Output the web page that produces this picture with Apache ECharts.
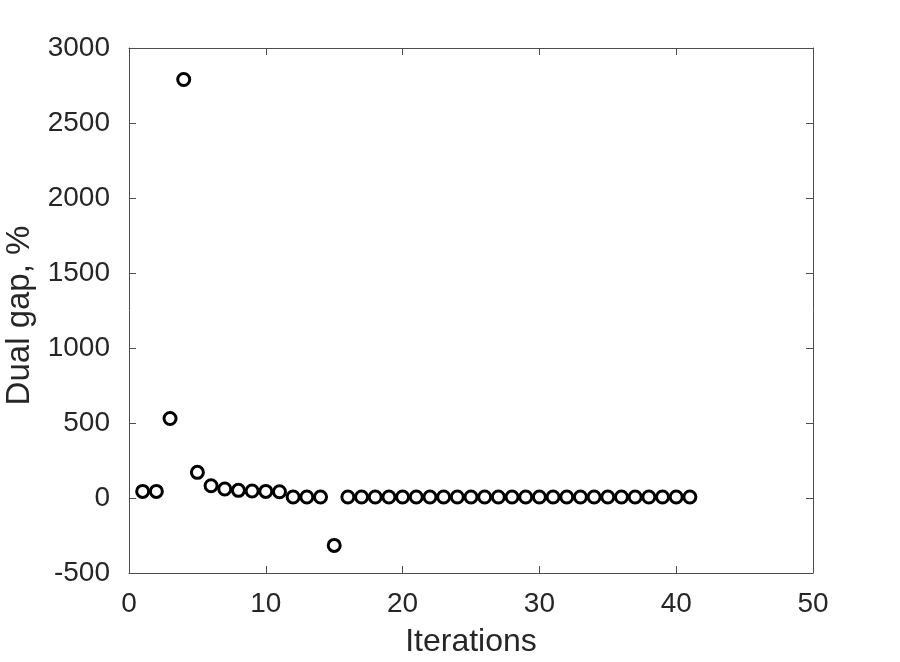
<!DOCTYPE html>
<html>
<head>
<meta charset="utf-8">
<script src="https://cdn.jsdelivr.net/npm/echarts@6/dist/echarts.min.js"></script>
<style>
  html, body { margin: 0; padding: 0; background: #fff; }
  #main { width: 900px; height: 662px; }
</style>
</head>
<body>
<div id="main"></div>
<script>
// iteration number and dual gap (%)
var iterations = [1, 2, 3, 4, 5, 6, 7, 8, 9, 10,
  11, 12, 13, 14, 15, 16, 17, 18, 19, 20,
  21, 22, 23, 24, 25, 26, 27, 28, 29, 30,
  31, 32, 33, 34, 35, 36, 37, 38, 39, 40, 41];
var dualGap = [44, 44, 530, 2790, 171, 82, 60, 51, 47, 44,
  42, 7, 7, 7, -316, 7, 7, 7, 7, 7,
  7, 7, 7, 7, 7, 7, 7, 7, 7, 7,
  7, 7, 7, 7, 7, 7, 7, 7, 7, 7, 7];

var xMin = 0, xMax = 50, xStep = 10;
var yMin = -500, yMax = 3000, yStep = 500;

var points = iterations.map(function (it, i) { return [it, dualGap[i]]; });

var txt = '#262626';
var frame = '#4d4d4d';
var font = 'Liberation Sans, Arial, sans-serif';

// top / right copies of the axes, just for the box and inner ticks
function mirrorAxis(pos, min, max, step) {
  return {
    type: 'value', position: pos, min: min, max: max, interval: step,
    axisLine: { show: true, onZero: false, lineStyle: { color: frame, width: 1 } },
    axisTick: { show: true, inside: true, length: 7, lineStyle: { color: frame } },
    axisLabel: { show: false },
    splitLine: { show: false }
  };
}

var chart = echarts.init(document.getElementById('main'));
chart.setOption({
  animation: false,
  backgroundColor: '#fff',
  grid: { left: 129, right: 87, top: 48, bottom: 89, containLabel: false, outerBoundsMode: 'none' },
  xAxis: [{
    type: 'value', position: 'bottom', min: xMin, max: xMax, interval: xStep,
    name: 'Iterations', nameLocation: 'middle', nameGap: 53,
    nameTextStyle: { color: txt, fontSize: 32, fontFamily: font },
    axisLine: { show: true, onZero: false, lineStyle: { color: frame, width: 1 } },
    axisTick: { show: true, inside: true, length: 7, lineStyle: { color: frame } },
    axisLabel: { color: txt, fontSize: 28, fontFamily: font, margin: 17 },
    splitLine: { show: false }
  }, mirrorAxis('top', xMin, xMax, xStep)],
  yAxis: [{
    type: 'value', position: 'left', min: yMin, max: yMax, interval: yStep,
    name: 'Dual gap, %', nameLocation: 'middle', nameGap: 93,
    nameTextStyle: { color: txt, fontSize: 33, fontFamily: font, padding: [0, 10, 0, 0] },
    axisLine: { show: true, onZero: false, lineStyle: { color: frame, width: 1 } },
    axisTick: { show: true, inside: true, length: 7, lineStyle: { color: frame } },
    axisLabel: { color: txt, fontSize: 28, fontFamily: font, margin: 19,
      formatter: function (v) { return String(v); } },
    splitLine: { show: false }
  }, mirrorAxis('right', yMin, yMax, yStep)],
  series: [{
    type: 'scatter',
    xAxisIndex: 0,
    yAxisIndex: 0,
    data: points,
    symbol: 'circle',
    symbolSize: 12,
    itemStyle: { color: '#fff', borderColor: '#000', borderWidth: 3, opacity: 1 }
  }]
});
</script>
</body>
</html>
